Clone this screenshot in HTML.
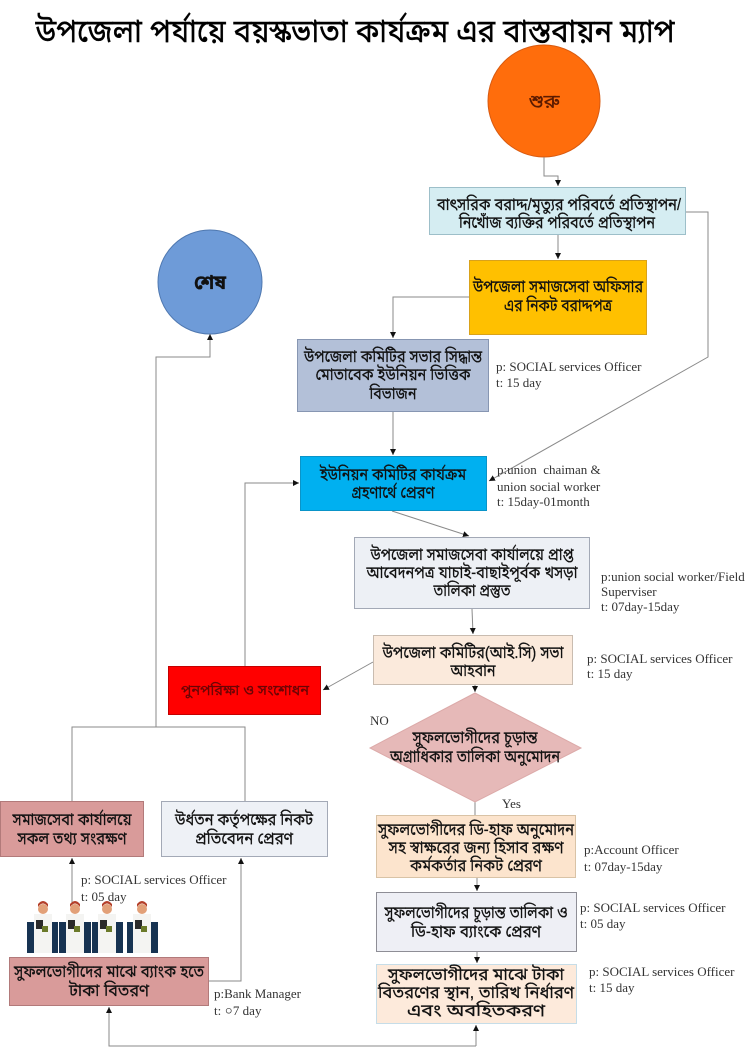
<!DOCTYPE html>
<html><head><meta charset="utf-8">
<style>
html,body{margin:0;padding:0;background:#fff;}
svg{display:block;}
.bn{font-family:"Liberation Sans","Noto Sans Bengali","Lohit Bengali",sans-serif;fill:#111;text-anchor:middle;stroke:#111;stroke-width:0.25;}
.en{font-family:"Liberation Serif",serif;font-size:13px;fill:#333;}
.ln{stroke:#8a8a8a;stroke-width:1;fill:none;}
</style></head>
<body>
<svg width="750" height="1049" viewBox="0 0 750 1049" xmlns="http://www.w3.org/2000/svg">
<defs>
<marker id="ar" markerWidth="8" markerHeight="8" refX="6" refY="3" orient="auto" markerUnits="userSpaceOnUse">
<path d="M0,0 L6,3 L0,6 z" fill="#111"/>
</marker>
</defs>

<!-- Title -->
<text class="bn" x="355" y="42" font-size="32" textLength="639" lengthAdjust="spacingAndGlyphs" style="fill:#000;stroke:#000;stroke-width:0.4">উপজেলা পর্যায়ে বয়স্কভাতা কার্যক্রম এর  বাস্তবায়ন ম্যাপ</text>

<!-- Start circle -->
<circle cx="544" cy="101" r="56" fill="#ff6d0c" stroke="#d85a10" stroke-width="1"/>
<text class="bn" x="544" y="108" font-size="19" textLength="31" lengthAdjust="spacingAndGlyphs" style="fill:#5a1a00;stroke:#5a1a00">শুরু</text>

<!-- End circle -->
<circle cx="210" cy="282" r="52" fill="#6e9bd8" stroke="#4f78b0" stroke-width="1"/>
<text class="bn" x="210" y="289" font-size="20" font-weight="bold" textLength="32" lengthAdjust="spacingAndGlyphs">শেষ</text>

<!-- Connectors -->
<polyline class="ln" points="544,157 544,176 558,176 558,186" marker-end="url(#ar)"/>
<polyline class="ln" points="558,235 558,259" marker-end="url(#ar)"/>
<polyline class="ln" points="686,212 708,212 708,357 489,481" marker-end="url(#ar)"/>
<polyline class="ln" points="469,297 393,297 393,338" marker-end="url(#ar)"/>
<polyline class="ln" points="393,412 393,455" marker-end="url(#ar)"/>
<polyline class="ln" points="392,511 469,536" marker-end="url(#ar)"/>
<polyline class="ln" points="472,609 473,634" marker-end="url(#ar)"/>
<polyline class="ln" points="373,662 323,690" marker-end="url(#ar)"/>
<polyline class="ln" points="475,685 475,692" marker-end="url(#ar)"/>
<polyline class="ln" points="475,802 475,815"/>
<polyline class="ln" points="477,878 477,891" marker-end="url(#ar)"/>
<polyline class="ln" points="477,952 477,963" marker-end="url(#ar)"/>
<polyline class="ln" points="476,1046 476,1025" marker-end="url(#ar)"/>
<polyline class="ln" points="476,1046 109,1046 109,1007" marker-end="url(#ar)"/>
<polyline class="ln" points="209,981 241,981 241,858" marker-end="url(#ar)"/>
<polyline class="ln" points="72,905 72,858" marker-end="url(#ar)"/>
<polyline class="ln" points="72,801 72,727 245,727 245,801"/>
<polyline class="ln" points="156,727 156,357 210,357 210,334" marker-end="url(#ar)"/>
<polyline class="ln" points="245,666 245,483 299,483" marker-end="url(#ar)"/>

<!-- Box1 -->
<rect x="429.5" y="187.5" width="256" height="47" fill="#d5edf2" stroke="#9dbfc9"/>
<text class="bn" x="559" y="210" font-size="17" textLength="244" lengthAdjust="spacingAndGlyphs">বাৎসরিক বরাদ্দ/মৃত্যুর পরিবর্তে প্রতিস্থাপন/</text>
<text class="bn" x="557" y="228" font-size="17" textLength="196" lengthAdjust="spacingAndGlyphs">নিখোঁজ ব্যক্তির পরিবর্তে প্রতিস্থাপন</text>

<!-- Yellow -->
<rect x="469.5" y="260.5" width="177" height="74" fill="#ffc000" stroke="#d9a21a"/>
<text class="bn" x="558" y="292" font-size="17" textLength="170" lengthAdjust="spacingAndGlyphs">উপজেলা সমাজসেবা অফিসার</text>
<text class="bn" x="558" y="311" font-size="17" textLength="108" lengthAdjust="spacingAndGlyphs">এর নিকট বরাদ্দপত্র</text>

<!-- Box2 -->
<rect x="297.5" y="339.5" width="191" height="72" fill="#b3c0d8" stroke="#8796b2"/>
<text class="bn" x="393" y="362" font-size="17" textLength="178" lengthAdjust="spacingAndGlyphs">উপজেলা কমিটির সভার সিদ্ধান্ত</text>
<text class="bn" x="393" y="380" font-size="17" textLength="155" lengthAdjust="spacingAndGlyphs">মোতাবেক ইউনিয়ন ভিত্তিক</text>
<text class="bn" x="393" y="399" font-size="17" textLength="47" lengthAdjust="spacingAndGlyphs">বিভাজন</text>

<!-- Union -->
<rect x="300.5" y="456.5" width="186" height="54" fill="#00b0f0" stroke="#0a94c8"/>
<text class="bn" x="393" y="480" font-size="17" textLength="146" lengthAdjust="spacingAndGlyphs">ইউনিয়ন কমিটির কার্যক্রম</text>
<text class="bn" x="393" y="498" font-size="17" textLength="83" lengthAdjust="spacingAndGlyphs">গ্রহণার্থে প্রেরণ</text>

<!-- Box3 -->
<rect x="354.5" y="537.5" width="235" height="71" fill="#edf0f5" stroke="#a3a9b6"/>
<text class="bn" x="472" y="560" font-size="17" textLength="203" lengthAdjust="spacingAndGlyphs">উপজেলা সমাজসেবা কার্যালয়ে প্রাপ্ত</text>
<text class="bn" x="472" y="578" font-size="17" textLength="211" lengthAdjust="spacingAndGlyphs">আবেদনপত্র যাচাই-বাছাইপূর্বক খসড়া</text>
<text class="bn" x="472" y="596" font-size="17" textLength="77" lengthAdjust="spacingAndGlyphs">তালিকা প্রস্তুত</text>

<!-- Box4 -->
<rect x="373.5" y="635.5" width="199" height="49" fill="#fbeadc" stroke="#c9bcb0"/>
<text class="bn" x="473" y="658" font-size="17" textLength="181" lengthAdjust="spacingAndGlyphs">উপজেলা কমিটির(আই.সি) সভা</text>
<text class="bn" x="473" y="676" font-size="17" textLength="45" lengthAdjust="spacingAndGlyphs">আহবান</text>

<!-- Red -->
<rect x="168.5" y="666.5" width="152" height="48" fill="#ff0000" stroke="#c40000"/>
<text class="bn" x="245" y="695" font-size="14" textLength="128" lengthAdjust="spacingAndGlyphs" style="fill:#6a0505;stroke:#6a0505">পুনপরিক্ষা ও সংশোধন</text>

<!-- Diamond -->
<polygon points="475,693 581,748 475,802 370,748" fill="#e6b9b8" stroke="#dcaaa9"/>
<text class="bn" x="475" y="743" font-size="17" textLength="125" lengthAdjust="spacingAndGlyphs">সুফলভোগীদের চূড়ান্ত</text>
<text class="bn" x="475" y="762" font-size="17" textLength="170" lengthAdjust="spacingAndGlyphs">অগ্রাধিকার তালিকা অনুমোদন</text>

<!-- Box5 -->
<rect x="376.5" y="815.5" width="199" height="62" fill="#fce4cd" stroke="#d9c3a6"/>
<text class="bn" x="476" y="835" font-size="17" textLength="196" lengthAdjust="spacingAndGlyphs">সুফলভোগীদের ডি-হাফ অনুমোদন</text>
<text class="bn" x="476" y="853" font-size="17" textLength="175" lengthAdjust="spacingAndGlyphs">সহ স্বাক্ষরের জন্য হিসাব রক্ষণ</text>
<text class="bn" x="476" y="871" font-size="17" textLength="132" lengthAdjust="spacingAndGlyphs">কর্মকর্তার নিকট প্রেরণ</text>

<!-- Box6 -->
<rect x="376.5" y="892.5" width="200" height="59" fill="#eeeff5" stroke="#8e8e96"/>
<text class="bn" x="476" y="918" font-size="17" textLength="183" lengthAdjust="spacingAndGlyphs">সুফলভোগীদের চূড়ান্ত তালিকা ও</text>
<text class="bn" x="476" y="937" font-size="17" textLength="130" lengthAdjust="spacingAndGlyphs">ডি-হাফ ব্যাংকে প্রেরণ</text>

<!-- Box7 -->
<rect x="376.5" y="964.5" width="200" height="59" fill="#fdeadb" stroke="#c6dde8"/>
<text class="bn" x="476" y="980" font-size="17" textLength="176" lengthAdjust="spacingAndGlyphs">সুফলভোগীদের মাঝে টাকা</text>
<text class="bn" x="476" y="998" font-size="17" textLength="196" lengthAdjust="spacingAndGlyphs">বিতরণের স্থান, তারিখ নির্ধারণ</text>
<text class="bn" x="476" y="1016" font-size="17" textLength="138" lengthAdjust="spacingAndGlyphs">এবং অবহিতকরণ</text>

<!-- Box A -->
<rect x="0.5" y="801.5" width="143" height="55" fill="#d99b9a" stroke="#b27a7a"/>
<text class="bn" x="72" y="825" font-size="17" textLength="119" lengthAdjust="spacingAndGlyphs">সমাজসেবা কার্যালয়ে</text>
<text class="bn" x="72" y="844" font-size="17" textLength="109" lengthAdjust="spacingAndGlyphs">সকল তথ্য সংরক্ষণ</text>

<!-- Box B -->
<rect x="161.5" y="801.5" width="166" height="55" fill="#eef1f6" stroke="#a3a9b6"/>
<text class="bn" x="244" y="825" font-size="17" textLength="138" lengthAdjust="spacingAndGlyphs">উর্ধতন কর্তৃপক্ষের নিকট</text>
<text class="bn" x="244" y="844" font-size="17" textLength="98" lengthAdjust="spacingAndGlyphs">প্রতিবেদন প্রেরণ</text>

<!-- People figures -->
<g>
<rect x="27" y="922" width="31" height="31" fill="#173352"/>
<rect x="59" y="922" width="32" height="31" fill="#173352"/>
<rect x="92" y="922" width="31" height="31" fill="#173352"/>
<rect x="127" y="922" width="31" height="31" fill="#173352"/>
<g id="p1">
<rect x="34" y="914" width="18" height="39" fill="#f4f4f2"/>
<circle cx="43" cy="909" r="5" fill="#e2a078"/>
<path d="M38,907 Q43,900 48,907 L48,904 Q43,898 38,904z" fill="#b4402a"/>
<rect x="36" y="920" width="7" height="9" fill="#2a2a2a"/>
<rect x="42" y="926" width="6" height="6" fill="#6b7a2a"/>
</g>
<use href="#p1" x="32"/>
<use href="#p1" x="64"/>
<use href="#p1" x="99"/>
</g>

<!-- Bank box -->
<rect x="9.5" y="957.5" width="199" height="48" fill="#d99b9a" stroke="#b27a7a"/>
<text class="bn" x="109" y="977" font-size="17" textLength="190" lengthAdjust="spacingAndGlyphs">সুফলভোগীদের মাঝে ব্যাংক হতে</text>
<text class="bn" x="109" y="996" font-size="17" textLength="80" lengthAdjust="spacingAndGlyphs">টাকা বিতরণ</text>

<!-- English labels -->
<text class="en" x="496" y="371">p: SOCIAL services Officer</text>
<text class="en" x="496" y="387">t: 15 day</text>

<text class="en" x="497" y="474" xml:space="preserve">p:union  chaiman &amp;</text>
<text class="en" x="497" y="491">union social worker</text>
<text class="en" x="497" y="506">t: 15day-01month</text>

<text class="en" x="601" y="581">p:union social worker/Field</text>
<text class="en" x="601" y="596">Superviser</text>
<text class="en" x="601" y="611">t: 07day-15day</text>

<text class="en" x="587" y="663">p: SOCIAL services Officer</text>
<text class="en" x="587" y="678">t: 15 day</text>

<text class="en" x="370" y="725">NO</text>
<text class="en" x="502" y="808">Yes</text>

<text class="en" x="584" y="854">p:Account Officer</text>
<text class="en" x="584" y="871">t: 07day-15day</text>

<text class="en" x="580" y="912">p: SOCIAL services Officer</text>
<text class="en" x="580" y="928">t: 05 day</text>

<text class="en" x="589" y="976">p: SOCIAL services Officer</text>
<text class="en" x="589" y="992">t: 15 day</text>

<text class="en" x="81" y="884">p: SOCIAL services Officer</text>
<text class="en" x="81" y="901">t: 05 day</text>

<text class="en" x="214" y="998">p:Bank Manager</text>
<text class="en" x="214" y="1015">t: ০7 day</text>
</svg>
</body></html>
